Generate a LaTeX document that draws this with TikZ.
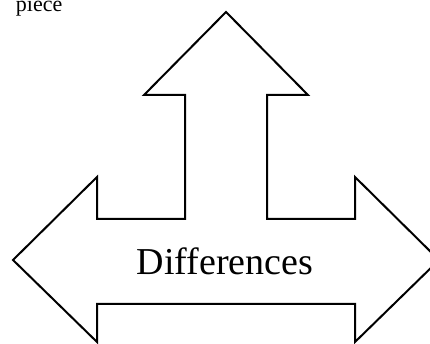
\documentclass[tikz,border=0pt]{standalone}
\usepackage{fontspec}
\setmainfont{Liberation Serif}
\tikzset{
  every picture/.style={x=1pt, y=1pt, line width=2pt},
  outline/.style={draw=black, fill=white, line join=miter},
  bigtext/.style={font=\fontsize{38}{40}\selectfont, anchor=base},
  smalltext/.style={font=\fontsize{22}{24}\selectfont, anchor=base west},
}

\begin{document}
\begin{tikzpicture}
  \useasboundingbox (0,0) rectangle (430,344);
  % three-way arrow: up, left and right
  \draw[outline] (13,84) -- (97,167) -- (97,125) -- (185,125) -- (185,249)
    -- (144,249) -- (226,332) -- (308,249) -- (267,249) -- (267,125)
    -- (355,125) -- (355,167) -- (439,84) -- (355,2) -- (355,40)
    -- (97,40) -- (97,2) -- cycle;
  \node[bigtext] (diff) at (225,69) {Differences};
  \node[smalltext, inner sep=0pt] (piece) at (15,332) {piece};
\end{tikzpicture}
\end{document}
